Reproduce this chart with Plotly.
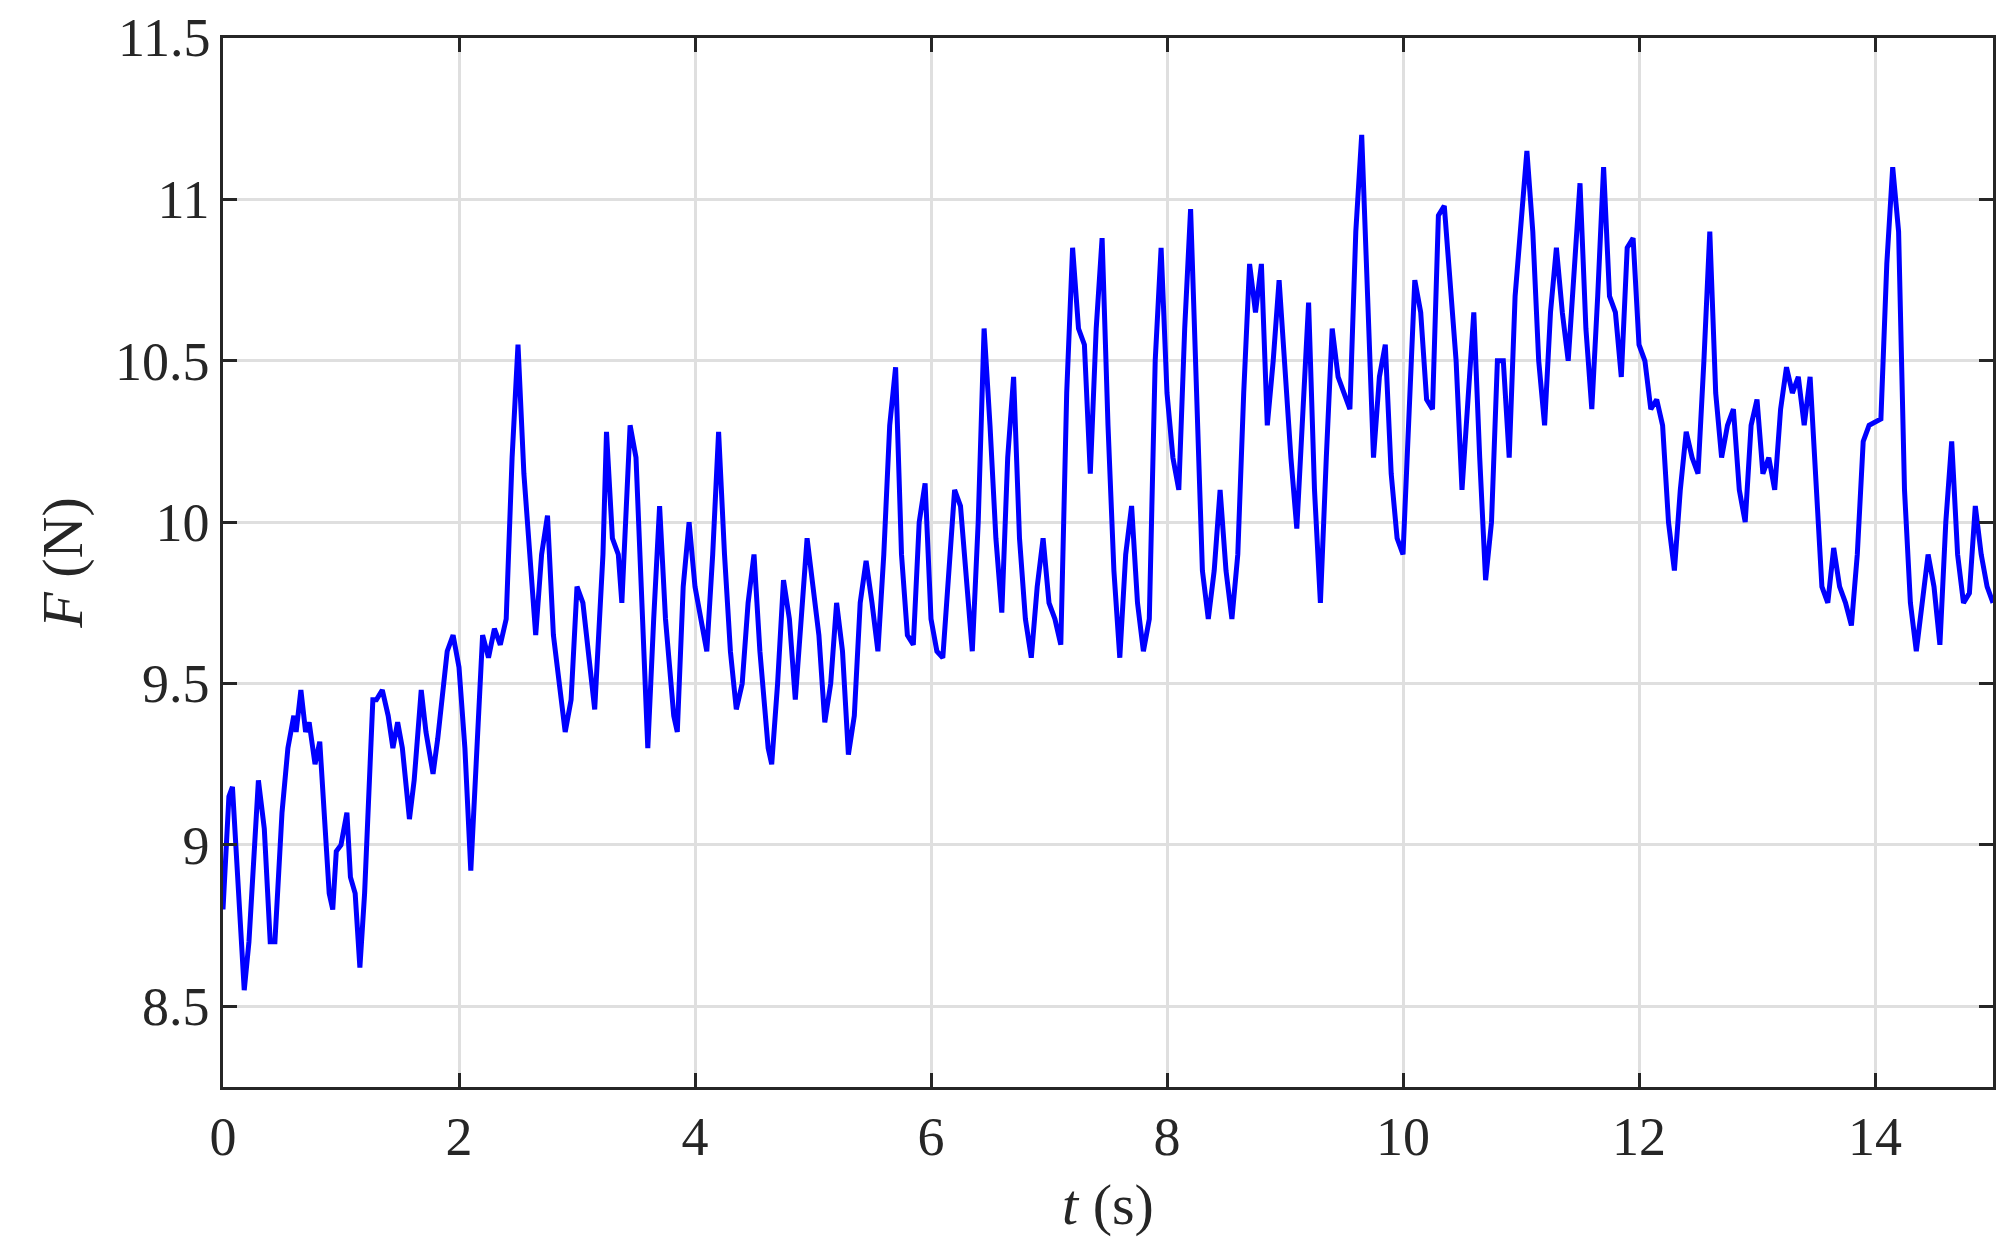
import plotly.graph_objects as go

t = [0,0.05,0.08,0.12,0.18,0.22,0.3,0.35,0.4,0.44,0.5,0.55,0.6,0.62,0.66,0.7,0.73,0.78,0.82,0.9,0.93,0.96,1.0,1.05,1.08,1.12,1.16,1.2,1.27,1.3,1.35,1.4,1.44,1.48,1.52,1.58,1.62,1.68,1.72,1.78,1.82,1.9,1.95,2.0,2.05,2.1,2.15,2.2,2.25,2.3,2.35,2.4,2.45,2.5,2.55,2.6,2.65,2.7,2.75,2.8,2.85,2.9,2.95,3.0,3.05,3.12,3.15,3.22,3.25,3.3,3.35,3.38,3.45,3.5,3.55,3.6,3.65,3.7,3.75,3.82,3.85,3.9,3.95,4.0,4.05,4.1,4.15,4.2,4.25,4.3,4.35,4.4,4.45,4.5,4.55,4.62,4.65,4.7,4.75,4.8,4.85,4.9,4.95,5.0,5.05,5.1,5.15,5.2,5.25,5.3,5.35,5.4,5.45,5.5,5.55,5.6,5.65,5.7,5.75,5.8,5.85,5.9,5.95,6.0,6.05,6.1,6.15,6.2,6.25,6.3,6.35,6.4,6.45,6.5,6.55,6.6,6.65,6.7,6.75,6.8,6.85,6.9,6.95,7.0,7.05,7.1,7.15,7.2,7.25,7.3,7.35,7.4,7.45,7.5,7.55,7.6,7.65,7.7,7.75,7.8,7.85,7.9,7.95,8.0,8.05,8.1,8.15,8.2,8.25,8.3,8.35,8.4,8.45,8.5,8.55,8.6,8.65,8.7,8.75,8.8,8.85,8.9,8.95,9.0,9.05,9.1,9.15,9.2,9.25,9.3,9.35,9.4,9.45,9.5,9.55,9.6,9.65,9.7,9.75,9.8,9.85,9.9,9.95,10.0,10.05,10.1,10.15,10.2,10.25,10.3,10.35,10.4,10.45,10.5,10.55,10.6,10.65,10.7,10.75,10.8,10.85,10.9,10.95,11.05,11.1,11.15,11.2,11.25,11.3,11.35,11.4,11.45,11.5,11.55,11.6,11.65,11.7,11.75,11.8,11.85,11.9,11.95,12.0,12.05,12.1,12.15,12.2,12.25,12.3,12.35,12.4,12.45,12.5,12.55,12.6,12.65,12.7,12.75,12.8,12.85,12.9,12.95,13.0,13.05,13.1,13.15,13.2,13.25,13.3,13.35,13.4,13.45,13.5,13.55,13.6,13.65,13.7,13.75,13.8,13.85,13.9,13.95,14.05,14.1,14.15,14.2,14.25,14.3,14.35,14.4,14.45,14.5,14.55,14.6,14.65,14.7,14.75,14.8,14.85,14.9,14.95,15.0]
F = [8.8,9.15,9.18,8.95,8.55,8.7,9.2,9.05,8.7,8.7,9.1,9.3,9.4,9.35,9.48,9.35,9.38,9.25,9.32,8.85,8.8,8.98,9.0,9.1,8.9,8.85,8.62,8.85,9.45,9.45,9.48,9.4,9.3,9.38,9.3,9.08,9.2,9.48,9.35,9.22,9.33,9.6,9.65,9.55,9.3,8.92,9.25,9.65,9.58,9.67,9.62,9.7,10.2,10.55,10.15,9.9,9.65,9.9,10.02,9.65,9.5,9.35,9.45,9.8,9.75,9.5,9.42,9.9,10.28,9.95,9.9,9.75,10.3,10.2,9.7,9.3,9.7,10.05,9.7,9.4,9.35,9.8,10.0,9.8,9.7,9.6,9.9,10.28,9.9,9.6,9.42,9.5,9.75,9.9,9.6,9.3,9.25,9.5,9.82,9.7,9.45,9.7,9.95,9.8,9.65,9.38,9.5,9.75,9.6,9.28,9.4,9.75,9.88,9.75,9.6,9.9,10.3,10.48,9.9,9.65,9.62,10.0,10.12,9.7,9.6,9.58,9.85,10.1,10.05,9.8,9.6,10.0,10.6,10.3,9.95,9.72,10.2,10.45,9.95,9.7,9.58,9.8,9.95,9.75,9.7,9.62,10.4,10.85,10.6,10.55,10.15,10.6,10.88,10.3,9.85,9.58,9.9,10.05,9.75,9.6,9.7,10.5,10.85,10.4,10.2,10.1,10.6,10.97,10.4,9.85,9.7,9.85,10.1,9.85,9.7,9.9,10.4,10.8,10.65,10.8,10.3,10.5,10.75,10.45,10.2,9.98,10.35,10.68,10.1,9.75,10.2,10.6,10.45,10.4,10.35,10.9,11.2,10.7,10.2,10.45,10.55,10.15,9.95,9.9,10.3,10.75,10.65,10.38,10.35,10.95,10.98,10.75,10.5,10.1,10.4,10.65,10.2,9.82,10.0,10.5,10.5,10.2,10.7,11.15,10.9,10.5,10.3,10.65,10.85,10.65,10.5,10.75,11.05,10.6,10.35,10.7,11.1,10.7,10.65,10.45,10.85,10.88,10.55,10.5,10.35,10.38,10.3,10.0,9.85,10.1,10.28,10.2,10.15,10.5,10.9,10.4,10.2,10.3,10.35,10.1,10.0,10.3,10.38,10.15,10.2,10.1,10.35,10.48,10.4,10.45,10.3,10.45,10.1,9.8,9.75,9.92,9.8,9.75,9.68,9.9,10.25,10.3,10.32,10.8,11.1,10.9,10.1,9.75,9.6,9.75,9.9,9.8,9.62,10.0,10.25,9.9,9.75,9.78,10.05,9.9,9.8,9.75,9.9,10.05]

ytick_vals = [8.5, 9, 9.5, 10, 10.5, 11]
ytick_text = ["8.5", "9", "9.5", "10", "10.5", "11"]
ytop_label = "11.5"

fig = go.Figure(go.Scatter(x=t, y=F, mode="lines", line=dict(color="#0000FF", width=5)))
font = dict(family="Liberation Serif", size=54, color="#262626")
tfont = dict(family="Liberation Serif", size=58, color="#262626")
ax = dict(showline=True, linecolor="#262626", linewidth=2.5, mirror="ticks", ticks="inside",
          ticklen=14, tickwidth=2.5, tickcolor="#262626", showgrid=True, gridcolor="#DFDFDF",
          gridwidth=2.5, zeroline=False, tickfont=font)
fig.update_xaxes(range=[0, 15], dtick=2, title=dict(text="<i>t</i> (s)", font=tfont, standoff=18), **ax)
fig.update_yaxes(range=[8.25, 11.5], tickvals=ytick_vals, ticktext=ytick_text,
                 title=dict(text="<i>F</i> (N)", font=tfont, standoff=14), **ax)
fig.add_annotation(text=ytop_label, x=0, y=11.5, xref="paper", yref="y", xanchor="right", yanchor="middle",
                   xshift=-10, showarrow=False, font=font)
fig.update_layout(width=2009, height=1258, plot_bgcolor="white", paper_bgcolor="white",
                  margin=dict(l=215, r=24, t=30, b=179), showlegend=False)
fig.write_html("out.html")
